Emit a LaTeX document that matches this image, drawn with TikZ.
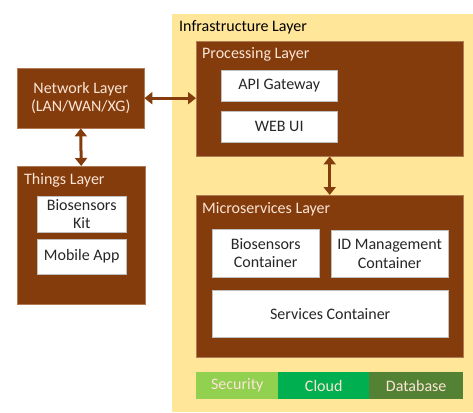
\documentclass[tikz,border=0pt]{standalone}
\usepackage{fontspec}
\setmainfont{Carlito}
\usepackage{xcolor}
\usetikzlibrary{arrows.meta}

\definecolor{rust}{HTML}{843C0C}
\definecolor{rustline}{HTML}{B07A55}
\definecolor{sand}{HTML}{FFE699}
\definecolor{cream}{HTML}{FBE5D6}
\definecolor{lime}{HTML}{92D050}
\definecolor{leaf}{HTML}{00B050}
\definecolor{moss}{HTML}{548235}

\tikzset{
    layer/.style={draw=rustline, line width=0.4pt, fill=rust, anchor=north west, inner sep=0pt},
    part/.style={draw=black!25, line width=0.4pt, fill=white, anchor=north west, inner sep=0pt, align=center, text=black!85},
    tag/.style={anchor=west, inner sep=0pt, text=cream},
    base/.style={anchor=north west, inner sep=0pt, minimum height=27pt, text=cream},
    link/.style={rust, line width=3pt, {Triangle[width=12pt,length=8pt]}-{Triangle[width=12pt,length=8pt]}}
}

\begin{document}
\begin{tikzpicture}[x=1pt, y=-1pt, font=\fontsize{16}{18.5}\selectfont]

        \useasboundingbox (0,0) rectangle (473,412);

        % infrastructure background
        \fill[sand] (172,14) rectangle (473,412);

        \node[anchor=west, inner sep=0pt] (infra) at (179,27) {Infrastructure Layer};

        % processing layer
        \node[layer, minimum width=267pt, minimum height=115pt] (proc) at (196,41) {};

        \node[tag] (proctitle) at (202,54) {Processing Layer};

        \node[part, minimum width=116pt, minimum height=31pt] (api) at (221,70) {API Gateway};

        \node[part, minimum width=116pt, minimum height=31pt] (webui) at (221,111) {WEB UI};

        % microservices layer
        \node[layer, minimum width=267pt, minimum height=162pt] (micro) at (196,195) {};

        \node[tag] (microtitle) at (202,209) {Microservices Layer};

        \node[part, minimum width=107pt, minimum height=48pt] (biocont) at (212,229) {Biosensors\\Container};

        \node[part, minimum width=117pt, minimum height=47pt] (idcont) at (331,230) {ID Management\\Container};

        \node[part, minimum width=236pt, minimum height=47pt] (svccont) at (212,290) {Services Container};

        % bottom strip
        \node[base, fill=lime, minimum width=82pt] (security) at (196,372) {Security};

        \node[base, fill=leaf, minimum width=91pt] (cloud) at (278,372) {Cloud};

        \node[base, fill=moss, minimum width=94pt] (database) at (369,372) {Database};

        % network and things
        \node[layer, minimum width=127pt, minimum height=60pt, align=center, text=cream] (net) at (17,68) {Network Layer\\(LAN/WAN/XG)};

        \node[layer, minimum width=128pt, minimum height=138pt] (things) at (17,166) {};

        \node[tag] (thingstitle) at (24,180) {Things Layer};

        \node[part, minimum width=89pt, minimum height=36pt] (biokit) at (37,196) {Biosensors\\Kit};

        \node[part, minimum width=89pt, minimum height=35pt] (mobile) at (37,239) {Mobile App};

        % links
        \draw[link] (net.east) -- (net.east -| proc.west);

        \draw[link] (net.south) -- (things.north);

        \draw[link] (proc.south) -- (micro.north);

    \end{tikzpicture}
\end{document}
